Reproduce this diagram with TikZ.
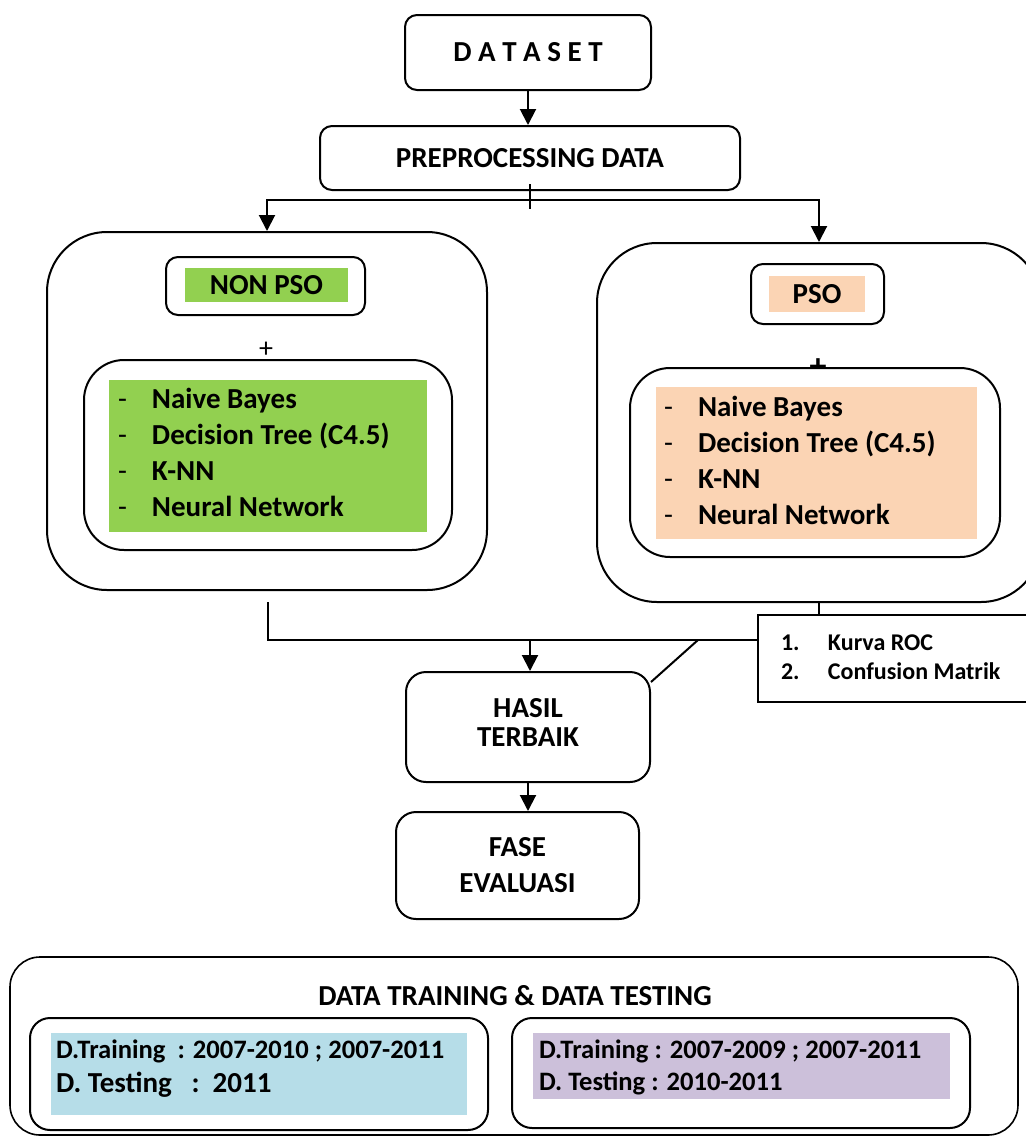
\documentclass[tikz,border=0pt]{standalone}
\usepackage{fontspec}
\setmainfont{Carlito}
\usetikzlibrary{arrows.meta}
\definecolor{nongreen}{HTML}{92D050}
\definecolor{psopeach}{HTML}{FBD4B4}
\definecolor{trainblue}{HTML}{B6DDE8}
\definecolor{trainlilac}{HTML}{CCC0DA}
\newcommand{\txtbig}{\fontsize{14.5pt}{18pt}\selectfont\bfseries}
\newcommand{\txttight}{\fontsize{14.5pt}{14.5pt}\selectfont\bfseries}
\newcommand{\txtmid}{\fontsize{13.3pt}{16pt}\selectfont\bfseries}
\newcommand{\txtsmall}{\fontsize{12pt}{14.5pt}\selectfont\bfseries}
\newcommand{\dashitem}[1]{\makebox[17pt][l]{\mdseries-}#1}
\newcommand{\numitem}[2]{\makebox[23.5pt][l]{#1}#2}
\tikzset{
  box/.style={draw,line width=1pt,rounded corners=6pt,inner sep=0pt,font=\txtbig,align=center},
  tint/.style={inner sep=0pt,font=\txtbig},
  list/.style={anchor=west,align=left,inner sep=0pt,font=\txtbig}
}
\begin{document}
\begin{tikzpicture}[x=0.5pt,y=-0.5pt,>={Triangle[length=8pt,width=8pt]},line width=1pt]
\useasboundingbox (0,0) rectangle (1025,1136);
\node[box,minimum width=123pt,minimum height=37.5pt] (dataset) at (528,52.5) {D A T A S E T};
\node[box,minimum width=210pt,minimum height=32pt] (prep) at (530,158) {PREPROCESSING DATA};
\node[box,rounded corners=30pt,minimum width=220pt,minimum height=179pt] (nonbox) at (267,411) {};
\node[box,rounded corners=30pt,minimum width=222pt,minimum height=179.5pt] (psobox) at (819,422.5) {};
% non pso
\node[box,minimum width=99.5pt,minimum height=29pt] (nonlbl) at (265.5,286) {};
\node[tint,fill=nongreen,minimum width=81.5pt,minimum height=17pt] (nonpso) at (266.5,285) {NON PSO};
\node[font=\fontsize{14pt}{14pt}\selectfont] (nonplus) at (266,350) {+};
\node[box,rounded corners=20pt,minimum width=184pt,minimum height=95pt] (nonalgo) at (268,455) {};
\node[tint,fill=nongreen,minimum width=159pt,minimum height=76pt] (nonfill) at (268,456) {};
\node[list] (nonlist) at (117,452.5) {\dashitem{Naive Bayes}\\\dashitem{Decision Tree (C4.5)}\\\dashitem{K-NN}\\\dashitem{Neural Network}};
% pso
\node[box,minimum width=66.5pt,minimum height=30pt] (psolbl) at (817.5,294) {};
\node[tint,fill=psopeach,minimum width=48pt,minimum height=18pt] (pso) at (817,294) {PSO};
\node[font=\fontsize{17pt}{17pt}\selectfont\bfseries] (psoplus) at (818,368) {+};
\node[box,fill=white,rounded corners=20pt,minimum width=185pt,minimum height=94.5pt] (psoalgo) at (815,462.5) {};
\node[tint,fill=psopeach,minimum width=160.5pt,minimum height=76pt] (psofill) at (816.5,463) {};
\node[list] (psolist) at (663,460) {\dashitem{Naive Bayes}\\\dashitem{Decision Tree (C4.5)}\\\dashitem{K-NN}\\\dashitem{Neural Network}};
\node[draw,line width=0.8pt,minimum width=141pt,minimum height=43.5pt,inner sep=0pt] (kurva) at (899,658.5) {};
\node[list,font=\txtsmall] (kurvalist) at (780,657.5) {\numitem{1.}{Kurva ROC}\\\numitem{2.}{Confusion Matrik}};
\node[box,font=\txttight,rounded corners=10pt,minimum width=122pt,minimum height=55pt] (hasil) at (528,727) {HASIL\\TERBAIK\\[-9.5pt]};
\node[box,rounded corners=10pt,minimum width=121.5pt,minimum height=53.5pt] (fase) at (517.5,865.5) {FASE\\EVALUASI};
% data training
\node[box,rounded corners=15pt,line width=0.8pt,minimum width=504pt,minimum height=89pt] (databox) at (514,1046) {};
\node[font=\txtbig] (datatitle) at (515,996) {DATA TRAINING \& DATA TESTING};
\node[box,rounded corners=10pt,minimum width=229pt,minimum height=56pt] (trainl) at (259,1074) {};
\node[tint,fill=trainblue,minimum width=208pt,minimum height=41pt] (filll) at (259,1074) {};
\node[list,font=\txtmid] (trainltxt) at (55,1051) {D.Training\ \ : 2007-2010 ; 2007-2011};
\node[list] (testltxt) at (55,1085) {D. Testing\ \ \ :\ \ 2011};
\node[box,rounded corners=10pt,minimum width=229pt,minimum height=55pt] (trainr) at (741,1073) {};
\node[tint,fill=trainlilac,minimum width=208.5pt,minimum height=33pt] (fillr) at (741.5,1066) {};
\node[list,font=\txtmid] (trainrtxt) at (538,1051) {D.Training : 2007-2009 ; 2007-2011};
\node[list,font=\txtmid] (testrtxt) at (538,1083) {D. Testing : 2010-2011};
% connectors
\coordinate (split) at (530,200);
\coordinate (nonout) at (268,602);
\coordinate (join) at (530,640);
\coordinate (bend) at (698,640);
\draw[->] (dataset.south) -- (dataset.south |- prep.north);
\draw ([yshift=3.5pt]prep.south) -- ++(0,25);
\draw[->] (split) -| (nonbox.north);
\draw[->] (split) -| (psobox.north);
\draw (nonout) |- (join) -- (join -| kurva.west);
\draw (psobox.south) -- (psobox.south |- kurva.north);
\draw[->] (join) -- (join |- hasil.north);
\draw ([yshift=-5.5pt]hasil.north east) -- (bend);
\draw[->] (hasil.south) -- (hasil.south |- fase.north);
\end{tikzpicture}
\end{document}
